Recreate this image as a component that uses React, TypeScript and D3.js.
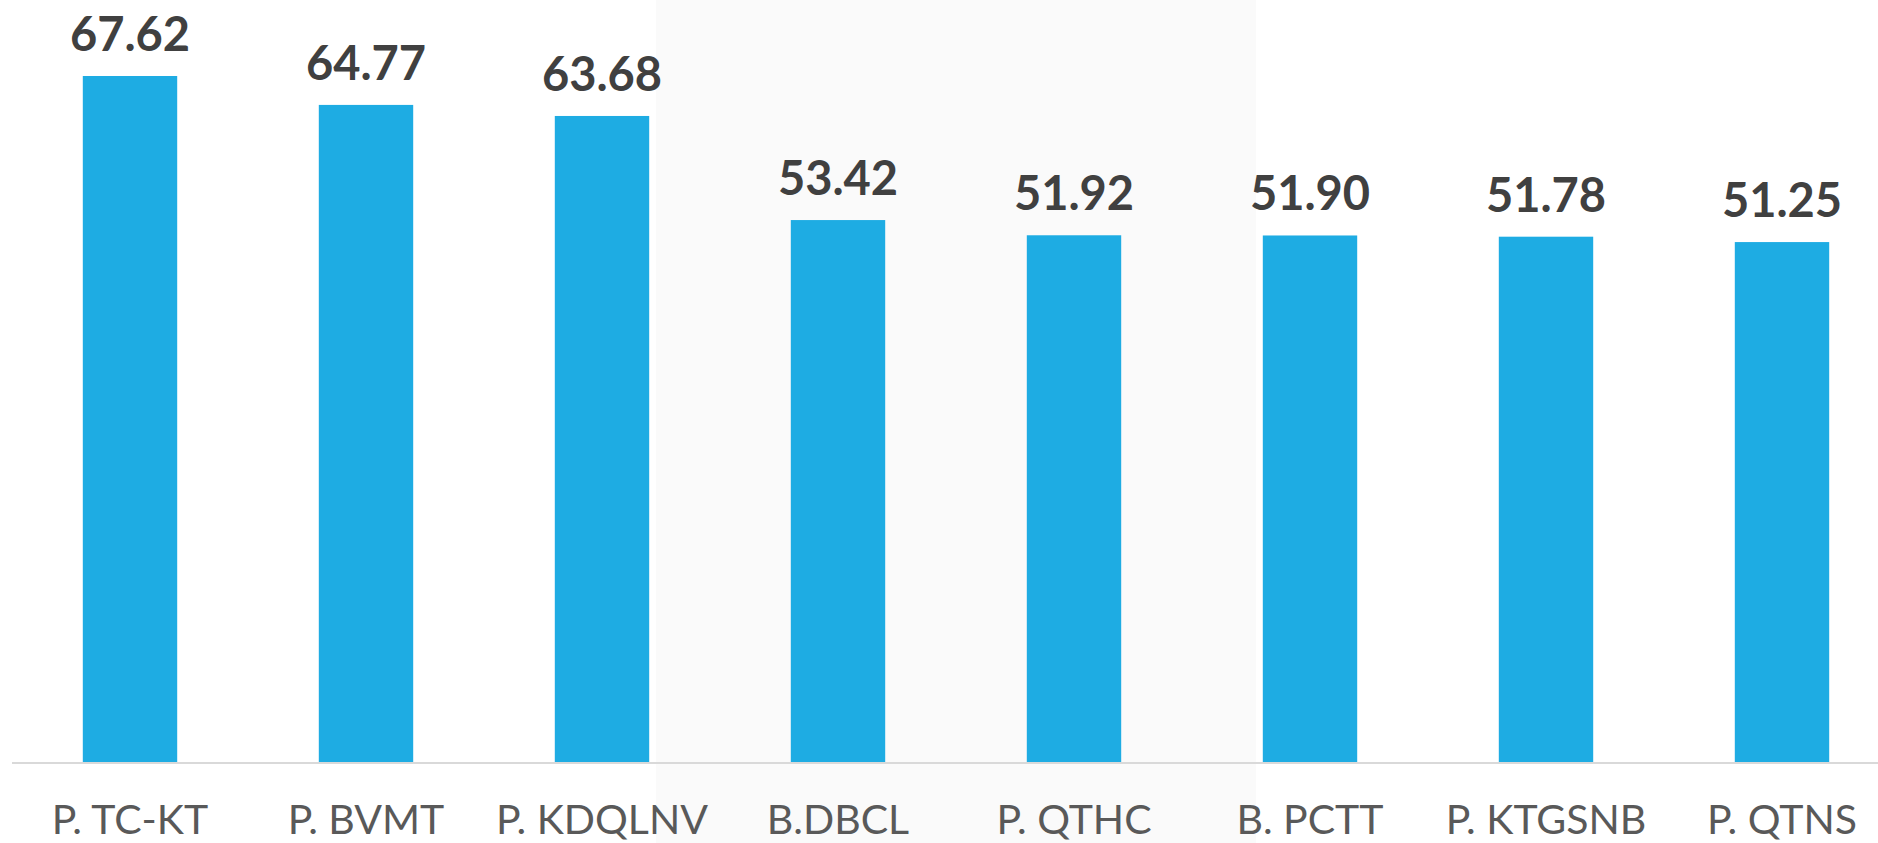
import * as d3 from 'd3';
import React, { useRef, useEffect } from 'react';

// data
const categories = ['P. TC-KT', 'P. BVMT', 'P. KDQLNV', 'B.DBCL', 'P. QTHC', 'B. PCTT', 'P. KTGSNB', 'P. QTNS'];
const values = [67.62, 64.77, 63.68, 53.42, 51.92, 51.90, 51.78, 51.25];

const width = 1878;
const height = 843;

function App() {
    const ref = useRef(null);

    useEffect(() => {
        const svg = d3.select(ref.current);
        svg.selectAll('*').remove();

        svg.append('rect')
            .attr('width', width)
            .attr('height', height)
            .attr('fill', '#ffffff');

        // faint highlight panel in the middle
        svg.append('rect')
            .attr('x', 656)
            .attr('y', 0)
            .attr('width', 1256 - 656)
            .attr('height', height)
            .attr('fill', '#fafafa');

        const x = d3.scaleBand()
            .domain(categories)
            .range([12, 12 + 236 * 8])
            .paddingInner(0.6)
            .paddingOuter(0.3);

        const baseY = 762;
        const y = d3.scaleLinear()
            .domain([0, 67.62])
            .range([baseY, 76]);

        const data = categories.map((c, i) => ({ c, v: values[i] }));

        svg.selectAll('rect.bar')
            .data(data).enter()
            .append('rect')
            .attr('class', 'bar')
            .attr('x', d => x(d.c))
            .attr('y', d => y(d.v))
            .attr('width', x.bandwidth())
            .attr('height', d => baseY - y(d.v))
            .attr('fill', '#1eace3');

        // axis line
        svg.append('line')
            .attr('x1', 12)
            .attr('x2', width)
            .attr('y1', baseY + 1)
            .attr('y2', baseY + 1)
            .attr('stroke', '#d9d9d9')
            .attr('stroke-width', 2);

        svg.selectAll('text.val')
            .data(data).enter()
            .append('text')
            .attr('class', 'val')
            .attr('x', d => x(d.c) + x.bandwidth() / 2)
            .attr('y', d => y(d.v) - 25)
            .attr('text-anchor', 'middle')
            .attr('font-family', 'Lato, sans-serif')
            .attr('font-weight', 'bold')
            .attr('font-size', 47)
            .attr('fill', '#404040')
            .text(d => d.v.toFixed(2));

        svg.selectAll('text.cat')
            .data(data).enter()
            .append('text')
            .attr('class', 'cat')
            .attr('x', d => x(d.c) + x.bandwidth() / 2)
            .attr('y', 834)
            .attr('text-anchor', 'middle')
            .attr('font-family', 'Lato, sans-serif')
            .attr('font-size', 41)
            .attr('fill', '#595959')
            .text(d => d.c);
    }, []);

    return (
        <svg ref={ref} width={width} height={height}
            style={{ position: 'absolute', left: 0, top: 0, display: 'block' }}>
        </svg>
    );
}

export default App;
